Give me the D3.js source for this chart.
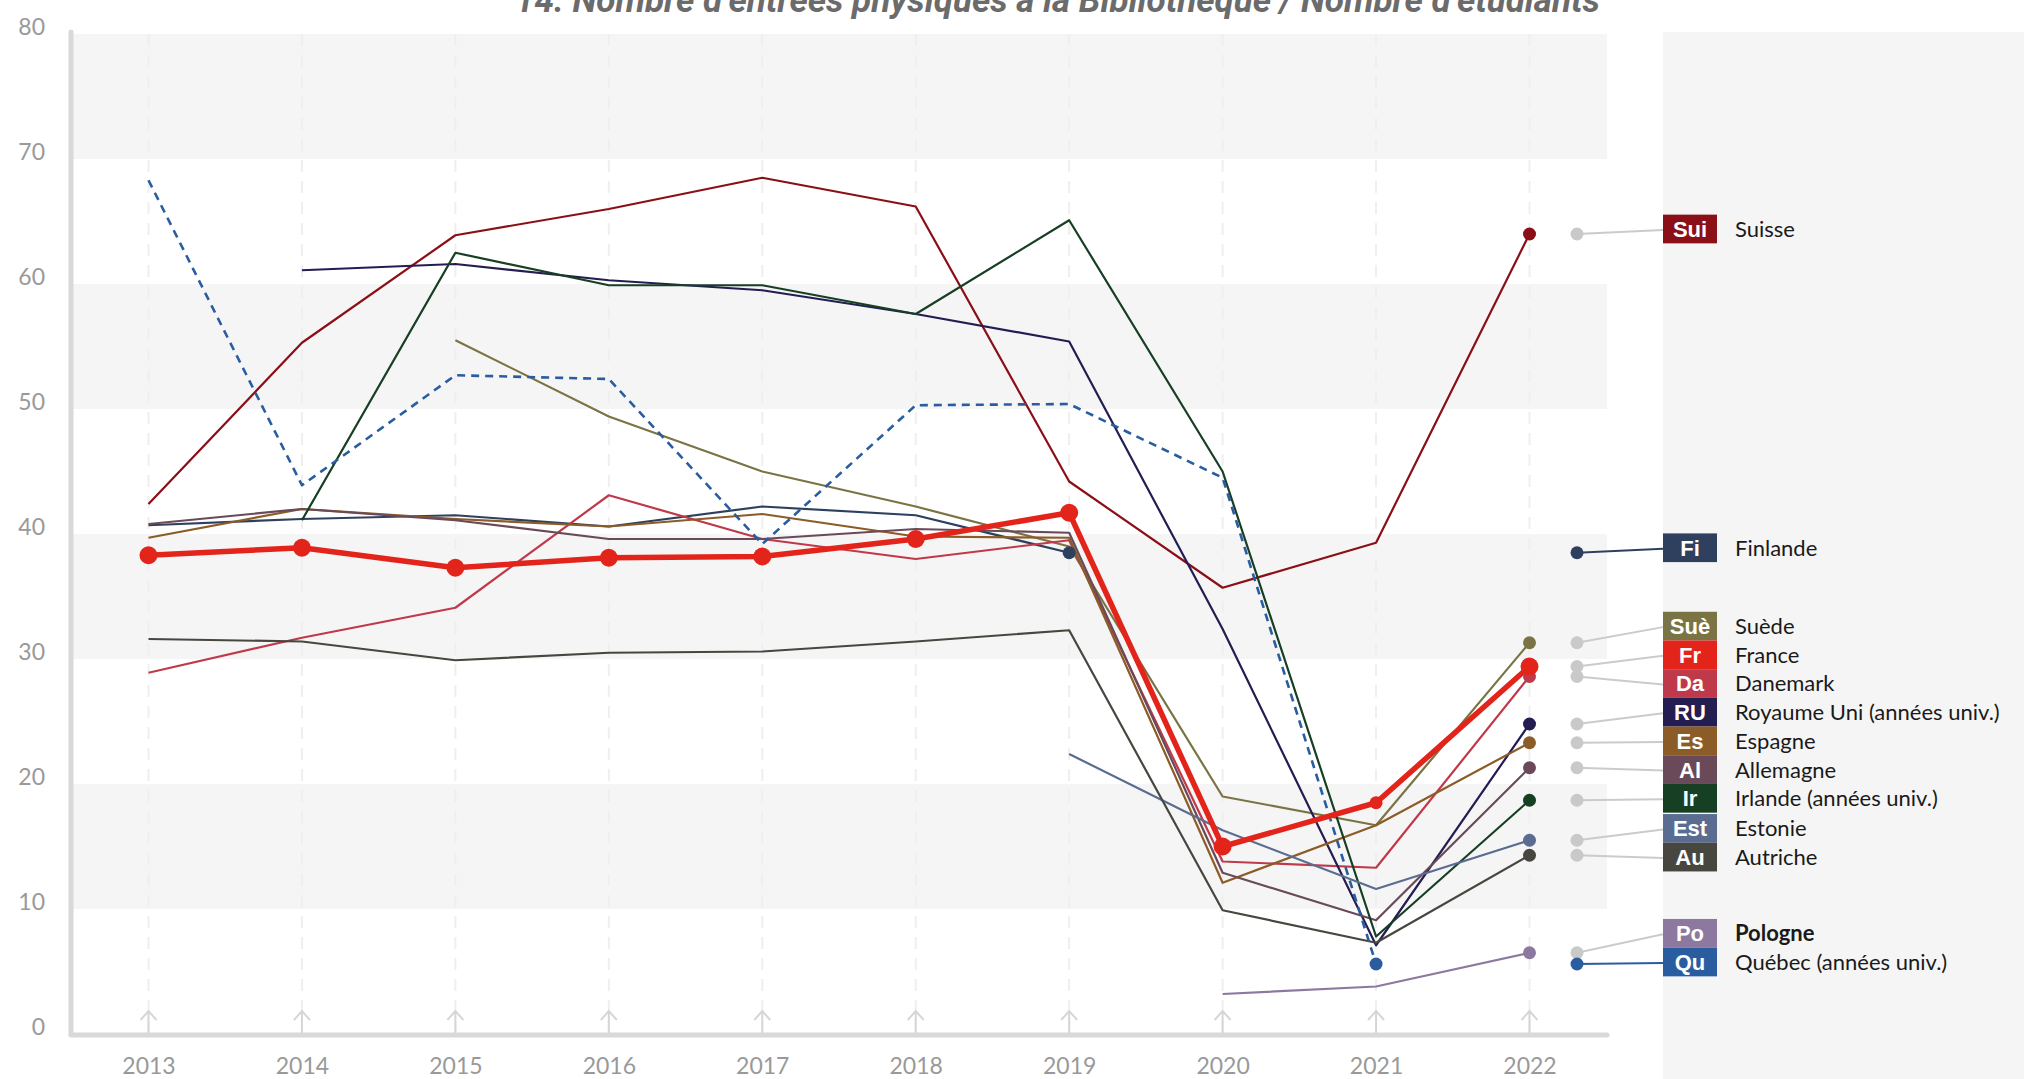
<!DOCTYPE html>
<html>
<head>
<meta charset="utf-8">
<script src="https://cdn.jsdelivr.net/npm/d3@7"></script>
<style>
body{margin:0;background:#fff;}
svg{display:block;}
</style>
</head>
<body>
<div id="chart"></div>
<script>
// valeurs (null = pas de donnee)
var years = [2013, 2014, 2015, 2016, 2017, 2018, 2019, 2020, 2021, 2022];
var yTicks = [0, 10, 20, 30, 40, 50, 60, 70, 80];
var bandStarts = [10, 30, 50, 70];

var suisse    = [42.4, 55.3, 63.9, 66.0, 68.5, 66.2, 44.2, 35.7, 39.3, 64.0];
var finlande  = [40.7, 41.2, 41.5, 40.6, 42.2, 41.5, 38.5, null, null, null];
var suede     = [null, null, 55.5, 49.4, 45.0, 42.2, 39.0, 19.0, 16.7, 31.3];
var france    = [38.3, 38.9, 37.3, 38.1, 38.2, 39.6, 41.7, 15.0, 18.5, 29.4];
var danemark  = [28.9, 31.7, 34.1, 43.1, 39.6, 38.0, 39.5, 13.8, 13.3, 28.6];
var royUni    = [null, 61.1, 61.6, 60.3, 59.5, 57.6, 55.4, 32.4, 7.1, 24.8];
var espagne   = [39.7, 42.0, 41.2, 40.6, 41.6, 39.8, 39.7, 12.1, 16.7, 23.3];
var allemagne = [40.8, 42.0, 41.1, 39.6, 39.6, 40.4, 40.1, 12.9, 9.1, 21.3];
var irlande   = [null, 41.1, 62.5, 59.9, 59.9, 57.6, 65.1, 45.0, 7.8, 18.7];
var estonie   = [null, null, null, null, null, null, 22.4, 16.3, 11.6, 15.5];
var autriche  = [31.6, 31.4, 29.9, 30.5, 30.6, 31.4, 32.3, 9.9, 7.3, 14.3];
var pologne   = [null, null, null, null, null, null, null, 3.2, 3.8, 6.5];
var quebec    = [68.3, 43.9, 52.7, 52.4, 39.2, 50.3, 50.4, 44.5, 5.6, null];

var codes  = ["Sui", "Fi", "Suè", "Fr", "Da", "RU", "Es", "Al", "Ir", "Est", "Au", "Po", "Qu"];
var names  = ["Suisse", "Finlande", "Suède", "France", "Danemark", "Royaume Uni (années univ.)",
              "Espagne", "Allemagne", "Irlande (années univ.)", "Estonie", "Autriche", "Pologne",
              "Québec (années univ.)"];
var colors = ["#8b0f17", "#2f405e", "#7a7444", "#e3241b", "#c0394a", "#241d52",
              "#8c5c28", "#6a4a59", "#163f24", "#5a6d91", "#474740", "#8d79a0", "#2a5d9f"];
var values = [suisse, finlande, suede, france, danemark, royUni, espagne, allemagne,
              irlande, estonie, autriche, pologne, quebec];

var title = "14. Nombre d’entrées physiques à la Bibliothèque / Nombre d’étudiants";

var W = 2024, H = 1079;

var svg = d3.select("#chart")
	.append("svg")
	.attr("width", W)
	.attr("height", H);

var x = d3.scaleLinear().domain([2013, 2022]).range([148.5, 1529.5]);
var y = d3.scaleLinear().domain([0, 80]).range([1034, 34]);

var plotL = 72, plotR = 1607;

// panneau gris de la legende
svg.append("rect")
	.attr("x", 1663).attr("y", 32)
	.attr("width", W - 1663).attr("height", H - 32)
	.attr("fill", "#f5f5f5");

// bandes horizontales
svg.selectAll("rect.band")
	.data(bandStarts)
	.enter()
	.append("rect")
	.attr("class", "band")
	.attr("x", plotL)
	.attr("y", d => y(d + 10))
	.attr("width", plotR - plotL)
	.attr("height", d => y(d) - y(d + 10))
	.attr("fill", "#f5f5f5");

// lignes verticales pointillees
svg.selectAll("line.vgrid")
	.data(years)
	.enter()
	.append("line")
	.attr("class", "vgrid")
	.attr("x1", d => x(d)).attr("x2", d => x(d))
	.attr("y1", y(80)).attr("y2", y(0))
	.attr("stroke", "#efefef")
	.attr("stroke-width", 2)
	.attr("stroke-dasharray", "12,9");

// petites fleches en bas
var arrows = svg.selectAll("g.arrow")
	.data(years)
	.enter()
	.append("g")
	.attr("class", "arrow")
	.attr("transform", d => "translate(" + x(d) + "," + y(0) + ")");
arrows.append("path")
	.attr("d", "M0,0V-23M-8,-14L0,-23L8,-14")
	.attr("fill", "none")
	.attr("stroke", "#d6d6d6")
	.attr("stroke-width", 2);

// axes
svg.append("line")
	.attr("x1", 71).attr("x2", 71)
	.attr("y1", 32).attr("y2", y(0))
	.attr("stroke", "#d9d9d9").attr("stroke-width", 5)
	.attr("stroke-linecap", "round");
svg.append("line")
	.attr("x1", 71).attr("x2", plotR)
	.attr("y1", y(0) + 1).attr("y2", y(0) + 1)
	.attr("stroke", "#d9d9d9").attr("stroke-width", 5)
	.attr("stroke-linecap", "round");

var yAxis = svg.append("g")
	.attr("transform", "translate(71,0)")
	.call(d3.axisLeft(y).tickValues(yTicks).tickSize(0).tickPadding(26));
yAxis.select(".domain").remove();
yAxis.selectAll("text")
	.attr("dy", "0.02em")
	.style("font-family", "Lato, 'Open Sans', sans-serif")
	.style("font-size", "23px")
	.attr("fill", "#999999");

var xAxis = svg.append("g")
	.attr("transform", "translate(0," + y(0) + ")")
	.call(d3.axisBottom(x).tickValues(years).tickFormat(d3.format("d")).tickSize(0).tickPadding(24));
xAxis.select(".domain").remove();
xAxis.selectAll("text")
	.style("font-family", "Lato, 'Open Sans', sans-serif")
	.style("font-size", "23px")
	.attr("fill", "#999999");

// titre (coupe en haut comme sur l'original)
svg.append("text")
	.attr("x", 1600).attr("y", 12)
	.attr("text-anchor", "end")
	.style("font-family", "Roboto, Lato, sans-serif")
	.style("font-weight", "bold")
	.style("font-style", "italic")
	.style("font-size", "35px")
	.attr("fill", "#6b6b6b")
	.text(title);

// series
var data = [];
for (var i = 0; i < codes.length; i++) {
	var pts = [];
	for (var j = 0; j < years.length; j++) {
		if (values[i][j] != null) pts.push({year: years[j], v: values[i][j]});
	}
	data.push({code: codes[i], name: names[i], color: colors[i], pts: pts, last: pts[pts.length - 1]});
}

var line = d3.line().x(d => x(d.year)).y(d => y(d.v));

// France dessinee en dernier, plus epaisse
var drawOrder = data.filter(d => d.code != "Fr").concat(data.filter(d => d.code == "Fr"));

svg.selectAll("path.serie")
	.data(drawOrder)
	.enter()
	.append("path")
	.attr("class", "serie")
	.attr("d", d => line(d.pts))
	.attr("fill", "none")
	.attr("stroke", d => d.color)
	.attr("stroke-width", d => d.code == "Fr" ? 5.5 : (d.code == "Qu" ? 2.6 : 2.2))
	.attr("stroke-dasharray", d => d.code == "Qu" ? "8,6" : null)
	.attr("stroke-linejoin", "round");

// point final de chaque serie
svg.selectAll("circle.end")
	.data(data.filter(d => d.code != "Fr"))
	.enter()
	.append("circle")
	.attr("class", "end")
	.attr("cx", d => x(d.last.year))
	.attr("cy", d => y(d.last.v))
	.attr("r", 6.5)
	.attr("fill", d => d.color);

var fr = data.filter(d => d.code == "Fr")[0];
svg.selectAll("circle.fr")
	.data(fr.pts)
	.enter()
	.append("circle")
	.attr("class", "fr")
	.attr("cx", d => x(d.year))
	.attr("cy", d => y(d.v))
	.attr("r", d => d.year == 2021 ? 6.5 : 9)
	.attr("fill", fr.color);

// legende : placement sans chevauchement
var step = 28.7, maxC = 962, minC = 50;
var items = data.slice().sort((a, b) => b.last.v - a.last.v);
items.forEach(d => { d.target = y(d.last.v) - 5; });

var groups = items.map(d => ({items: [d]}));
function place(g) {
	var n = g.items.length;
	var c = d3.mean(g.items, d => d.target);
	var top = c - (n - 1) / 2 * step;
	if (top + (n - 1) * step > maxC) top = maxC - (n - 1) * step;
	if (top < minC) top = minC;
	g.top = top;
	g.bottom = top + (n - 1) * step;
}
groups.forEach(place);
var merged = true;
while (merged) {
	merged = false;
	for (var k = 0; k < groups.length - 1; k++) {
		if (groups[k].bottom + step > groups[k + 1].top) {
			groups[k].items = groups[k].items.concat(groups[k + 1].items);
			groups.splice(k + 1, 1);
			place(groups[k]);
			merged = true;
			break;
		}
	}
}
groups.forEach(g => g.items.forEach((d, i) => { d.ly = g.top + i * step; }));

var dotX = 1577, boxX = 1663, boxW = 54;

var leg = svg.selectAll("g.leg")
	.data(items)
	.enter()
	.append("g")
	.attr("class", "leg");

leg.append("line")
	.attr("x1", dotX).attr("y1", d => y(d.last.v))
	.attr("x2", boxX).attr("y2", d => d.ly + 1)
	.attr("stroke", d => d.last.year != 2022 ? d.color : "#cbcbcb")
	.attr("stroke-width", 2);

leg.append("circle")
	.attr("cx", dotX).attr("cy", d => y(d.last.v))
	.attr("r", 6.5)
	.attr("fill", d => d.last.year != 2022 ? d.color : "#c9c9c9");

leg.append("rect")
	.attr("x", boxX).attr("y", d => d.ly - step / 2)
	.attr("width", boxW).attr("height", step)
	.attr("fill", d => d.color);

leg.append("text")
	.attr("x", boxX + boxW / 2).attr("y", d => d.ly)
	.attr("dy", "0.36em")
	.attr("text-anchor", "middle")
	.style("font-family", "'Liberation Sans', Arial, sans-serif")
	.style("font-weight", "bold")
	.style("font-size", "22px")
	.attr("fill", "#fff")
	.text(d => d.code);

leg.append("text")
	.attr("x", 1735).attr("y", d => d.ly)
	.attr("dy", "0.36em")
	.style("font-family", "Lato, 'Open Sans', sans-serif")
	.style("font-size", "22px")
	.style("font-weight", d => d.code == "Po" ? "bold" : "normal")
	.attr("fill", "#1a1a1a")
	.text(d => d.name);
</script>
</body>
</html>
